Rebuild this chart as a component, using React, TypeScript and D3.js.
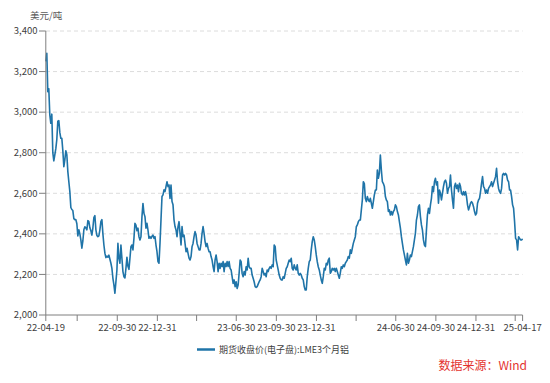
import React from "react";
import * as d3 from "d3";

// LME 3-month aluminium close (USD/t), sampled evenly from 2022-04-19 to 2025-04-17
const START_DATE = "2022-04-19";
const END_DATE = "2025-04-17";

const seg1 = [
  3250, 3290, 3101, 3115, 2986, 2945, 2990, 2800, 2760, 2789,
  2820, 2865, 2955, 2958, 2900, 2871, 2871, 2810, 2731, 2765,
  2810, 2790, 2707, 2657, 2608, 2530, 2520, 2515, 2475, 2470,
  2470, 2450, 2390, 2420, 2400, 2370, 2329, 2365, 2420, 2435,
  2430, 2420, 2465, 2460, 2430, 2415, 2394, 2430, 2480, 2490,
  2420, 2392, 2386, 2390, 2420, 2460, 2470, 2400, 2345, 2305,
  2283, 2290, 2285, 2295, 2275, 2255, 2230, 2181, 2148, 2107,
  2164, 2222, 2354, 2279, 2255, 2345, 2279, 2214, 2189, 2183,
  2230, 2285, 2240, 2225, 2280, 2337, 2345, 2321, 2378, 2452,
  2443, 2415,
];
const seg2 = [
  2428, 2386, 2370, 2386, 2485, 2550, 2501, 2485, 2428, 2452,
  2419, 2378, 2386, 2378, 2388, 2394, 2378, 2386, 2345, 2312,
  2263, 2255, 2353, 2469, 2584, 2592, 2617, 2608, 2633, 2657,
  2633, 2641, 2575, 2641, 2559, 2543, 2469, 2436, 2419, 2386,
  2436, 2460, 2403, 2345, 2436, 2386, 2394, 2353, 2312, 2329,
  2304, 2280, 2271, 2288, 2337, 2353, 2386, 2411, 2394, 2353,
  2337, 2321, 2321, 2353, 2403, 2436, 2403, 2362, 2337, 2353,
  2329, 2312, 2312, 2288, 2271, 2239, 2214, 2271, 2296, 2263,
  2214, 2255, 2230, 2255, 2239, 2263, 2214, 2255, 2239, 2263,
  2239, 2263, 2230, 2222,
];
const seg3 = [
  2189, 2156, 2173, 2140, 2164, 2131, 2148, 2205, 2271, 2263,
  2205, 2189, 2214, 2197, 2238, 2222, 2280, 2238, 2230, 2230,
  2197, 2181, 2164, 2140, 2136, 2140, 2152, 2164, 2173, 2189,
  2230, 2214, 2197, 2205, 2189, 2222, 2214, 2230, 2238, 2230,
  2247, 2238, 2345, 2337, 2271, 2247, 2222, 2197, 2181, 2173,
  2173, 2189, 2181, 2205, 2230, 2238, 2255, 2271, 2263, 2280,
  2230, 2222, 2247, 2230, 2222, 2247, 2205, 2197, 2205, 2197,
  2181, 2173, 2140, 2123, 2123, 2189, 2230, 2263, 2271, 2321,
  2362, 2386, 2370, 2337, 2296, 2263, 2238, 2222, 2197, 2173,
  2156, 2189, 2230, 2222,
];
const seg4 = [
  2255, 2247, 2271, 2280, 2206, 2214, 2230, 2222, 2230, 2214,
  2230, 2214, 2197, 2181, 2206, 2238, 2230, 2247, 2238, 2255,
  2263, 2271, 2288, 2280, 2321, 2304, 2329, 2353, 2370, 2386,
  2435, 2444, 2460, 2468, 2468, 2517, 2567, 2657, 2648, 2575,
  2559, 2584, 2567, 2559, 2575, 2551, 2526, 2559, 2592, 2616,
  2616, 2715, 2674, 2698, 2789, 2715, 2657, 2648, 2633, 2584,
  2567, 2559, 2510, 2518, 2493, 2510, 2493, 2510, 2518, 2543,
  2534, 2510, 2493, 2460, 2428, 2386, 2353, 2321, 2296, 2271,
  2247, 2304, 2255, 2271, 2296, 2288, 2312, 2337, 2370, 2403,
  2468, 2493, 2534, 2543, 2485, 2444, 2419, 2370,
];
const seg5 = [
  2345, 2337, 2419, 2493, 2526, 2501, 2543, 2575, 2633, 2608,
  2657, 2674, 2641, 2657, 2551, 2616, 2600, 2567, 2600, 2633,
  2657, 2665, 2649, 2600, 2624, 2633, 2690, 2616, 2567, 2526,
  2633, 2649, 2624, 2641, 2608, 2649, 2633, 2600, 2592, 2608,
  2592, 2608, 2584, 2543, 2518, 2534, 2551, 2559, 2551, 2534,
  2510, 2493, 2501, 2551, 2567, 2575, 2608, 2649, 2682, 2633,
  2624, 2600, 2616, 2600, 2624, 2633, 2641, 2657, 2633, 2649,
  2665, 2682, 2723, 2657, 2624, 2608, 2600, 2624, 2690, 2698,
  2690, 2698, 2690, 2665, 2657, 2616, 2616, 2584, 2543, 2526,
  2460, 2378, 2370, 2321, 2386, 2378, 2370, 2370, 2375,
];
const lmeAl3M = [...seg1, ...seg2, ...seg3, ...seg4, ...seg5];

const yTicks = [2000, 2200, 2400, 2600, 2800, 3000, 3200, 3400];
const xTickDates = [
  "2022-04-19", "2022-06-30", "2022-09-30", "2022-12-31", "2023-03-31",
  "2023-06-30", "2023-09-30", "2023-12-31", "2024-03-31", "2024-06-30",
  "2024-09-30", "2024-12-31", "2025-03-31", "2025-04-17",
];
const xTickShown = [true, false, true, true, false, true, true, true, false, true, true, true, false, true];

const unitLabel = "美元/吨";
const seriesName = "期货收盘价(电子盘):LME3个月铝";
const sourceText = "数据来源：Wind";

const parse = d3.timeParse("%Y-%m-%d");
const fmtX = d3.timeFormat("%y-%m-%d");
const fmtY = d3.format(",");

export default function App() {
  const W = 550, H = 383;
  const start = parse(START_DATE) as Date;
  const end = parse(END_DATE) as Date;
  const x = d3.scaleTime().domain([start, end]).range([45.8, 522.6]);
  const y = d3.scaleLinear().domain([2000, 3400]).range([315, 31]);
  const n = lmeAl3M.length;
  const data = lmeAl3M.map((v, i) => ({
    d: new Date(+start + (i * (+end - +start)) / (n - 1)),
    v,
  }));
  const line = d3
    .line<{ d: Date; v: number }>()
    .x((p) => x(p.d))
    .y((p) => y(p.v));
  const font = "'Noto Sans CJK SC', 'Noto Sans', sans-serif";
  const axisColor = "#7f7f7f";
  const textColor = "#404040";

  return (
    <div style={{ position: "absolute", left: 0, top: 0 }}>
      <svg width={W} height={H} style={{ display: "block", background: "#fff" }} fontFamily={font}>
        {/* grid */}
        {yTicks.filter((t) => t > 2000).map((t) => (
          <line key={"g" + t} x1={46} x2={522.6} y1={y(t)} y2={y(t)} stroke="#dcdcdc" strokeDasharray="4,3" strokeWidth={1} />
        ))}
        {/* line */}
        <path d={line(data) || ""} fill="none" stroke="#1f74a8" strokeWidth={1.6} strokeLinejoin="round" />
        {/* y axis */}
        <line x1={45.8} x2={45.8} y1={y(3400)} y2={y(2000)} stroke={axisColor} strokeWidth={1} />
        {yTicks.map((t) => (
          <g key={"y" + t}>
            <line x1={39} x2={45.8} y1={y(t)} y2={y(t)} stroke={axisColor} />
            <text x={37.5} y={y(t)} dy="0.35em" textAnchor="end" fontSize={9.5} fill={textColor}>
              {fmtY(t)}
            </text>
          </g>
        ))}
        {/* x axis */}
        <line x1={45.8} x2={522.6} y1={315} y2={315} stroke={axisColor} strokeWidth={1} />
        {xTickDates.map((s, i) => {
          const xx = x(parse(s) as Date);
          return (
            <g key={"x" + s}>
              <line x1={xx} x2={xx} y1={315} y2={321} stroke={axisColor} />
              {xTickShown[i] && (
                <text x={xx} y={330.5} textAnchor="middle" fontSize={9.5} fill={textColor}>
                  {fmtX(parse(s) as Date)}
                </text>
              )}
            </g>
          );
        })}
        {/* unit */}
        <text x={30} y={19} fontSize={9.5} fill="#595959">{unitLabel}</text>
        {/* legend */}
        <line x1={197} x2={215} y1={349.5} y2={349.5} stroke="#1f74a8" strokeWidth={2.5} />
        <text x={219} y={353} fontSize={9} fill={textColor}>{seriesName}</text>
        {/* source */}
        <text x={527} y={370} textAnchor="end" fontSize={12} fill="#e3342f">{sourceText}</text>
      </svg>
    </div>
  );
}
